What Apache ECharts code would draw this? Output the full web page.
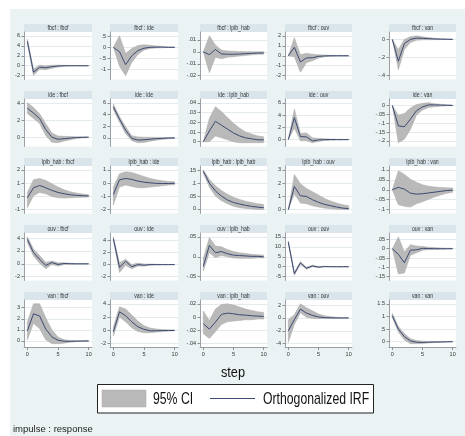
<!DOCTYPE html>
<html><head><meta charset="utf-8">
<script src="https://cdn.jsdelivr.net/npm/echarts@6/dist/echarts.min.js"></script>
<style>
html,body{margin:0;padding:0;background:#fff;}
#bg{position:absolute;left:10px;top:9px;width:455px;height:427px;background:#eaf2f3;}
#c{position:absolute;left:0;top:0;width:465px;height:436px;}
</style>
</head><body><div id="bg"></div><div id="c"></div>
<script>
// ---------- data ----------
const steps = [0,1,2,3,4,5,6,7,8,9,10];
const variables = ['fbcf','ide','lpib_hab','ouv','van'];
const xTicks = [0,5,10];

// impulse fbcf
const irf_fbcf_fbcf = [4.9, -1.3, -0.3, -0.4, -0.2, -0.05, 0, 0, 0, 0, 0];
const lo_fbcf_fbcf  = [4.5, -1.95, -0.7, -0.8, -0.5, -0.25, -0.1, -0.05, -0.03, -0.02, -0.01];
const hi_fbcf_fbcf  = [5.3, -0.65, 0.1, 0.0, 0.1, 0.12, 0.08, 0.05, 0.03, 0.02, 0.01];
const ticks_fbcf_fbcf = [-2, 0, 2, 4, 6];

const irf_fbcf_ide = [0, -0.2, -0.78, -0.38, -0.15, -0.04, 0, 0.01, 0.01, 0, 0];
const lo_fbcf_ide  = [0, -0.85, -1.28, -0.68, -0.32, -0.12, -0.05, -0.03, -0.02, -0.01, -0.01];
const hi_fbcf_ide  = [0, 0.52, -0.28, -0.05, 0.08, 0.12, 0.09, 0.06, 0.04, 0.02, 0.02];
const ticks_fbcf_ide = [-1, -0.5, 0, 0.5];

const irf_fbcf_lpib_hab = [0, -0.0023, 0.002, -0.0017, -0.002, -0.002, -0.0018, -0.0015, -0.0012, -0.001, -0.0009];
const lo_fbcf_lpib_hab  = [0, -0.0175, -0.0045, -0.0058, -0.0045, -0.004, -0.0035, -0.003, -0.0025, -0.002, -0.002];
const hi_fbcf_lpib_hab  = [0, 0.0135, 0.0058, 0.0015, 0.0008, 0.0005, 0.0003, 0.0002, 0.0001, 0.0001, 0.0001];
const ticks_fbcf_lpib_hab = [-0.02, -0.01, 0, 0.01];

const irf_fbcf_ouv = [0, 0.85, -0.62, -0.22, -0.2, -0.06, -0.02, 0, 0, 0, 0];
const lo_fbcf_ouv  = [0, -0.1, -1.65, -0.7, -0.5, -0.22, -0.1, -0.05, -0.03, -0.02, -0.01];
const hi_fbcf_ouv  = [0, 1.8, 0.1, 0.25, 0.15, 0.1, 0.07, 0.04, 0.03, 0.02, 0.01];
const ticks_fbcf_ouv = [-2, -1, 0, 1, 2];

const irf_fbcf_van = [0, -0.24, -0.045, 0.0, 0.015, 0.012, 0.008, 0.005, 0.003, 0.002, 0.001];
const lo_fbcf_van  = [0, -0.335, -0.11, -0.035, -0.01, -0.005, -0.003, -0.002, -0.001, -0.001, 0];
const hi_fbcf_van  = [0, -0.11, 0.0, 0.03, 0.04, 0.03, 0.02, 0.012, 0.008, 0.005, 0.003];
const ticks_fbcf_van = [-0.4, -0.2, 0];

// impulse ide
const irf_ide_fbcf = [3.4, 2.85, 2.2, 0.9, 0.0, -0.25, -0.18, -0.1, -0.05, -0.02, 0];
const lo_ide_fbcf  = [2.8, 2.2, 1.6, 0.2, -0.6, -0.65, -0.45, -0.3, -0.15, -0.08, -0.05];
const hi_ide_fbcf  = [4.05, 3.5, 2.75, 1.6, 0.5, 0.15, 0.1, 0.08, 0.05, 0.04, 0.03];
const ticks_ide_fbcf = [0, 2, 4];

const irf_ide_ide = [5.3, 3.2, 1.3, -0.1, -0.4, -0.35, -0.25, -0.15, -0.1, -0.05, -0.02];
const lo_ide_ide  = [4.8, 2.7, 0.7, -0.5, -0.85, -0.8, -0.6, -0.42, -0.28, -0.18, -0.12];
const hi_ide_ide  = [5.8, 3.65, 1.9, 0.35, 0.15, 0.1, 0.08, 0.06, 0.06, 0.05, 0.05];
const ticks_ide_ide = [0, 2, 4, 6];

const irf_ide_lpib_hab = [0, 0.011, 0.021, 0.017, 0.013, 0.009, 0.006, 0.004, 0.003, 0.002, 0.002];
const lo_ide_lpib_hab  = [0, 0.0, 0.006, 0.004, 0.002, 0.0, -0.001, -0.001, -0.001, -0.001, -0.001];
const hi_ide_lpib_hab  = [0, 0.024, 0.036, 0.031, 0.025, 0.019, 0.014, 0.01, 0.008, 0.006, 0.005];
const ticks_ide_lpib_hab = [0, 0.01, 0.02, 0.03, 0.04];

const irf_ide_ouv = [0, 3.6, 0.5, 0.45, -0.2, -0.05, 0, 0.02, 0, 0, 0];
const lo_ide_ouv  = [0, 1.9, -0.2, -0.2, -0.5, -0.3, -0.15, -0.08, -0.05, -0.03, -0.02];
const hi_ide_ouv  = [0, 5.0, 1.0, 1.1, 0.3, 0.2, 0.15, 0.1, 0.06, 0.04, 0.03];
const ticks_ide_ouv = [0, 2, 4, 6];

const irf_ide_van = [0, -0.115, -0.12, -0.077, -0.03, -0.008, 0.003, 0.003, 0.002, 0.001, 0];
const lo_ide_van  = [0, -0.21, -0.19, -0.135, -0.055, -0.025, -0.012, -0.007, -0.004, -0.002, -0.001];
const hi_ide_van  = [0, -0.055, -0.045, -0.015, 0.005, 0.012, 0.015, 0.01, 0.007, 0.004, 0.002];
const ticks_ide_van = [-0.2, -0.15, -0.1, -0.05, 0];

// impulse lpib_hab
const irf_lpib_hab_fbcf = [-0.1, 0.65, 0.82, 0.65, 0.45, 0.3, 0.2, 0.12, 0.08, 0.05, 0.03];
const lo_lpib_hab_fbcf  = [-0.85, 0.05, 0.3, 0.2, 0.0, -0.1, -0.12, -0.1, -0.08, -0.06, -0.05];
const hi_lpib_hab_fbcf  = [0.3, 1.25, 1.35, 1.2, 0.95, 0.7, 0.5, 0.35, 0.25, 0.18, 0.12];
const ticks_lpib_hab_fbcf = [-1, 0, 1, 2];

const irf_lpib_hab_ide = [-0.85, 0.25, 0.35, 0.28, 0.15, 0.07, 0.02, -0.02, -0.03, -0.03, -0.02];
const lo_lpib_hab_ide  = [-1.65, -0.3, -0.15, -0.25, -0.35, -0.35, -0.3, -0.25, -0.2, -0.15, -0.12];
const hi_lpib_hab_ide  = [-0.3, 0.7, 0.85, 0.8, 0.65, 0.5, 0.35, 0.25, 0.18, 0.12, 0.1];
const ticks_lpib_hab_ide = [-2, -1, 0, 1];

const irf_lpib_hab_lpib_hab = [0.146, 0.1, 0.07, 0.05, 0.035, 0.025, 0.019, 0.014, 0.01, 0.007, 0.005];
const lo_lpib_hab_lpib_hab  = [0.14, 0.085, 0.05, 0.032, 0.02, 0.01, 0.005, 0.002, 0.0, -0.002, -0.003];
const hi_lpib_hab_lpib_hab  = [0.152, 0.115, 0.09, 0.072, 0.057, 0.045, 0.037, 0.03, 0.025, 0.02, 0.017];
const ticks_lpib_hab_lpib_hab = [0, 0.05, 0.1, 0.15];

const irf_lpib_hab_ouv = [0, 1.75, 1.05, 1.0, 0.75, 0.55, 0.4, 0.3, 0.2, 0.12, 0.08];
const lo_lpib_hab_ouv  = [0, 1.2, 0.5, 0.45, 0.3, 0.2, 0.12, 0.07, 0.03, 0.01, 0.0];
const hi_lpib_hab_ouv  = [0, 2.65, 1.95, 1.6, 1.35, 1.1, 0.85, 0.65, 0.5, 0.38, 0.3];
const ticks_lpib_hab_ouv = [0, 1, 2, 3];

const irf_lpib_hab_van = [0, 0.012, 0.003, -0.017, -0.022, -0.02, -0.016, -0.012, -0.008, -0.004, -0.002];
const lo_lpib_hab_van  = [0, -0.075, -0.083, -0.087, -0.07, -0.06, -0.048, -0.036, -0.026, -0.018, -0.013];
const hi_lpib_hab_van  = [0, 0.095, 0.077, 0.053, 0.037, 0.025, 0.018, 0.014, 0.011, 0.01, 0.009];
const ticks_lpib_hab_van = [-0.1, -0.05, 0, 0.05, 0.1];

// impulse ouv
const irf_ouv_fbcf = [3.8, 1.75, 0.7, -0.25, 0.2, -0.1, 0.05, 0.02, 0, 0, 0];
const lo_ouv_fbcf  = [3.3, 1.2, 0.1, -0.75, -0.1, -0.35, -0.1, -0.06, -0.04, -0.02, -0.01];
const hi_ouv_fbcf  = [4.2, 2.3, 1.3, 0.2, 0.45, 0.15, 0.15, 0.08, 0.04, 0.02, 0.01];
const ticks_ouv_fbcf = [-2, 0, 2, 4];

const irf_ouv_ide = [4.3, -0.45, 0.55, -0.35, 0.0, -0.1, 0, 0, 0, 0, 0];
const lo_ouv_ide  = [4.0, -1.3, -0.1, -0.7, -0.25, -0.25, -0.1, -0.05, -0.03, -0.02, -0.01];
const hi_ouv_ide  = [4.6, 0.3, 0.9, 0.0, 0.25, 0.1, 0.1, 0.05, 0.03, 0.02, 0.01];
const ticks_ouv_ide = [-2, 0, 2, 4];

const irf_ouv_lpib_hab = [-0.024, 0.0285, 0.01, 0.013, 0.0076, 0.004, 0.003, 0.002, 0.001, 0.001, 0];
const lo_ouv_lpib_hab  = [-0.036, 0.01, -0.002, 0.003, 0.0, -0.003, -0.004, -0.004, -0.004, -0.003, -0.003];
const hi_ouv_lpib_hab  = [-0.004, 0.048, 0.027, 0.025, 0.018, 0.013, 0.01, 0.008, 0.006, 0.005, 0.004];
const ticks_ouv_lpib_hab = [-0.05, 0, 0.05];

const irf_ouv_ouv = [12.3, -3.5, 1.9, -0.8, 0.4, -0.2, 0.1, 0, 0, 0, 0];
const lo_ouv_ouv  = [11.6, -4.3, 1.3, -1.3, 0.0, -0.45, -0.1, -0.08, -0.05, -0.03, -0.02];
const hi_ouv_ouv  = [13.0, -2.8, 2.6, -0.3, 0.8, 0.05, 0.25, 0.08, 0.05, 0.03, 0.02];
const ticks_ouv_ouv = [-5, 0, 5, 10, 15];

const irf_ouv_van = [0, -0.03, -0.075, -0.008, -0.006, 0.002, 0.001, 0, 0, 0, 0];
const lo_ouv_van  = [0, -0.135, -0.13, -0.035, -0.022, -0.008, -0.005, -0.004, -0.003, -0.002, -0.001];
const hi_ouv_van  = [0, 0.064, -0.018, 0.022, 0.015, 0.012, 0.008, 0.006, 0.004, 0.003, 0.002];
const ticks_ouv_van = [-0.15, -0.1, -0.05, 0, 0.05];

// impulse van
const irf_van_fbcf = [0.92, 2.45, 2.25, 1.07, 0.37, 0.06, -0.03, -0.03, -0.02, -0.01, 0];
const lo_van_fbcf  = [0.1, 1.6, 1.1, 0.1, -0.25, -0.25, -0.2, -0.12, -0.06, -0.03, -0.02];
const hi_van_fbcf  = [1.7, 3.35, 3.35, 2.1, 1.0, 0.35, 0.1, 0.05, 0.03, 0.02, 0.02];
const ticks_van_fbcf = [0, 1, 2, 3];

const irf_van_ide = [-0.2, 2.8, 2.2, 1.3, 0.55, 0.15, -0.05, -0.05, -0.03, -0.02, 0];
const lo_van_ide  = [-0.85, 2.0, 1.3, 0.4, -0.15, -0.35, -0.35, -0.25, -0.17, -0.1, -0.07];
const hi_van_ide  = [0.5, 3.55, 3.2, 2.3, 1.4, 0.7, 0.35, 0.2, 0.12, 0.08, 0.05];
const ticks_van_ide = [-2, 0, 2, 4];

const irf_van_lpib_hab = [-0.01, -0.018, -0.0075, 0.004, 0.006, 0.005, 0.0035, 0.003, 0.002, 0.0015, 0.001];
const lo_van_lpib_hab  = [-0.025, -0.032, -0.022, -0.011, -0.007, -0.006, -0.005, -0.004, -0.004, -0.003, -0.003];
const hi_van_lpib_hab  = [0.009, -0.005, 0.012, 0.019, 0.02, 0.018, 0.015, 0.012, 0.01, 0.008, 0.007];
const ticks_van_lpib_hab = [-0.04, -0.02, 0, 0.02];

const irf_van_ouv = [-2.0, -0.26, 1.37, 0.76, 0.4, 0.15, 0.05, 0.02, 0, 0, 0];
const lo_van_ouv  = [-3.8, -1.0, 0.8, 0.1, -0.05, -0.1, -0.1, -0.08, -0.05, -0.03, -0.02];
const hi_van_ouv  = [-0.26, 0.5, 2.2, 1.6, 1.1, 0.6, 0.35, 0.2, 0.1, 0.05, 0.03];
const ticks_van_ouv = [-4, -2, 0, 2];

const irf_van_van = [1.03, 0.5, 0.2, 0.03, -0.02, -0.03, -0.02, -0.015, -0.01, -0.005, 0];
const lo_van_van  = [0.95, 0.38, 0.07, -0.08, -0.08, -0.07, -0.05, -0.035, -0.025, -0.015, -0.01];
const hi_van_van  = [1.12, 0.6, 0.32, 0.12, 0.05, 0.02, 0.01, 0.01, 0.005, 0.005, 0.005];
const ticks_van_van = [0, 0.5, 1, 1.5];

// lookup table built from the named arrays
const PANELS = {
  'fbcf:fbcf': [irf_fbcf_fbcf, lo_fbcf_fbcf, hi_fbcf_fbcf, ticks_fbcf_fbcf],
  'fbcf:ide': [irf_fbcf_ide, lo_fbcf_ide, hi_fbcf_ide, ticks_fbcf_ide],
  'fbcf:lpib_hab': [irf_fbcf_lpib_hab, lo_fbcf_lpib_hab, hi_fbcf_lpib_hab, ticks_fbcf_lpib_hab],
  'fbcf:ouv': [irf_fbcf_ouv, lo_fbcf_ouv, hi_fbcf_ouv, ticks_fbcf_ouv],
  'fbcf:van': [irf_fbcf_van, lo_fbcf_van, hi_fbcf_van, ticks_fbcf_van],
  'ide:fbcf': [irf_ide_fbcf, lo_ide_fbcf, hi_ide_fbcf, ticks_ide_fbcf],
  'ide:ide': [irf_ide_ide, lo_ide_ide, hi_ide_ide, ticks_ide_ide],
  'ide:lpib_hab': [irf_ide_lpib_hab, lo_ide_lpib_hab, hi_ide_lpib_hab, ticks_ide_lpib_hab],
  'ide:ouv': [irf_ide_ouv, lo_ide_ouv, hi_ide_ouv, ticks_ide_ouv],
  'ide:van': [irf_ide_van, lo_ide_van, hi_ide_van, ticks_ide_van],
  'lpib_hab:fbcf': [irf_lpib_hab_fbcf, lo_lpib_hab_fbcf, hi_lpib_hab_fbcf, ticks_lpib_hab_fbcf],
  'lpib_hab:ide': [irf_lpib_hab_ide, lo_lpib_hab_ide, hi_lpib_hab_ide, ticks_lpib_hab_ide],
  'lpib_hab:lpib_hab': [irf_lpib_hab_lpib_hab, lo_lpib_hab_lpib_hab, hi_lpib_hab_lpib_hab, ticks_lpib_hab_lpib_hab],
  'lpib_hab:ouv': [irf_lpib_hab_ouv, lo_lpib_hab_ouv, hi_lpib_hab_ouv, ticks_lpib_hab_ouv],
  'lpib_hab:van': [irf_lpib_hab_van, lo_lpib_hab_van, hi_lpib_hab_van, ticks_lpib_hab_van],
  'ouv:fbcf': [irf_ouv_fbcf, lo_ouv_fbcf, hi_ouv_fbcf, ticks_ouv_fbcf],
  'ouv:ide': [irf_ouv_ide, lo_ouv_ide, hi_ouv_ide, ticks_ouv_ide],
  'ouv:lpib_hab': [irf_ouv_lpib_hab, lo_ouv_lpib_hab, hi_ouv_lpib_hab, ticks_ouv_lpib_hab],
  'ouv:ouv': [irf_ouv_ouv, lo_ouv_ouv, hi_ouv_ouv, ticks_ouv_ouv],
  'ouv:van': [irf_ouv_van, lo_ouv_van, hi_ouv_van, ticks_ouv_van],
  'van:fbcf': [irf_van_fbcf, lo_van_fbcf, hi_van_fbcf, ticks_van_fbcf],
  'van:ide': [irf_van_ide, lo_van_ide, hi_van_ide, ticks_van_ide],
  'van:lpib_hab': [irf_van_lpib_hab, lo_van_lpib_hab, hi_van_lpib_hab, ticks_van_lpib_hab],
  'van:ouv': [irf_van_ouv, lo_van_ouv, hi_van_ouv, ticks_van_ouv],
  'van:van': [irf_van_van, lo_van_van, hi_van_van, ticks_van_van]
};

// ---------- layout / style ----------
const colLeft = [24, 110, 200, 285, 389];
const colRight = [92, 178, 267, 352, 456];
const rowTop = [32, 99, 166, 233, 300];
const rowH = 47.5;
const FONT = 'Liberation Sans, Arial, sans-serif';
const BAND = '#b9b9b9', BAND_EDGE = '#a8a8a8', LINE = '#3b4a72';

function fmt(v) {
  const s = String(Number(Number(v).toPrecision(6)));
  return s.replace(/^(-?)0\./, '$1.');
}

const grids = [], xAxes = [], yAxes = [], seriesList = [], graphics = [];

variables.forEach((imp, r) => {
  variables.forEach((resp, c) => {
    const key = imp + ':' + resp;
    const [irf, lo, hi, ticks] = PANELS[key];
    const i = grids.length;
    const dMin = Math.min(ticks[0], ...lo), dMax = Math.max(ticks[ticks.length - 1], ...hi);
    const pad = (dMax - dMin) * 0.095;
    const left = colLeft[c], top = rowTop[r], width = colRight[c] - colLeft[c];
    grids.push({ left, top, width, height: rowH, show: true, backgroundColor: '#ffffff',
      borderWidth: 0, containLabel: false, outerBoundsMode: 'none' });
    const bottom = r === variables.length - 1;
    xAxes.push({
      gridIndex: i, type: 'value', min: -0.55, max: 10.55,
      axisLine: { show: bottom, onZero: false, lineStyle: { color: '#9aa0a6', width: 1 } },
      axisTick: { show: bottom, customValues: xTicks, length: 2.5, lineStyle: { color: '#777', width: 0.8 } },
      axisLabel: { show: bottom, customValues: xTicks, fontSize: 5.5, color: '#333', margin: 4, fontFamily: FONT },
      splitLine: { show: false }
    });
    yAxes.push({
      gridIndex: i, type: 'value', min: dMin - pad, max: dMax + pad,
      axisLine: { show: true, onZero: false, lineStyle: { color: '#9aa0a6', width: 1 } },
      axisTick: { show: true, customValues: ticks, length: 2.5, lineStyle: { color: '#777', width: 0.8 } },
      axisLabel: { show: true, customValues: ticks, fontSize: 5.5, color: '#333', margin: 4,
        fontFamily: FONT, formatter: fmt },
      splitLine: { show: true, lineStyle: { color: '#e3ebee', width: 1 } }
    });
    seriesList.push({
      type: 'custom', name: '95% CI', xAxisIndex: i, yAxisIndex: i, silent: true, clip: true,
      data: steps.map(s => [s, lo[s], hi[s]]),
      encode: { x: 0, y: [1, 2] },
      renderItem: function (params, api) {
        if (params.dataIndex !== 0) return { type: 'group', children: [] };
        const up = steps.map(s => api.coord([s, hi[s]]));
        const dn = steps.map(s => api.coord([s, lo[s]])).reverse();
        return { type: 'polygon', shape: { points: up.concat(dn) },
          style: { fill: BAND, stroke: BAND_EDGE, lineWidth: 0.5 } };
      },
      z: 2
    });
    seriesList.push({
      type: 'line', name: 'Orthogonalized IRF', xAxisIndex: i, yAxisIndex: i, silent: true,
      data: steps.map(s => [s, irf[s]]), symbol: 'none',
      lineStyle: { color: LINE, width: 1 }, z: 3
    });
    graphics.push({
      type: 'rect', shape: { x: left, y: top - 8, width: width, height: 8 },
      style: { fill: '#d9e5ea' }, silent: true
    });
    graphics.push({
      type: 'text', x: left + width / 2, y: top - 3.8, scaleX: 0.8,
      style: { text: imp + ' : ' + resp, x: 0, y: 0, align: 'center', verticalAlign: 'middle',
        font: '6.5px ' + FONT, fill: '#333' }, silent: true
    });
  });
});

// overall texts and legend
graphics.push({ type: 'text', x: 233, y: 373, scaleX: 0.85,
  style: { text: 'step', x: 0, y: 0, align: 'center', verticalAlign: 'middle', font: '15px ' + FONT, fill: '#111' } });
graphics.push({ type: 'rect', shape: { x: 97.5, y: 384.5, width: 276, height: 28.5 },
  style: { fill: '#ffffff', stroke: '#222', lineWidth: 1 } });
graphics.push({ type: 'rect', shape: { x: 102, y: 390, width: 44, height: 17 },
  style: { fill: BAND, stroke: BAND_EDGE, lineWidth: 0.5 } });
graphics.push({ type: 'text', x: 153, y: 399, scaleX: 0.72,
  style: { text: '95% CI', x: 0, y: 0, align: 'left', verticalAlign: 'middle', font: '17px ' + FONT, fill: '#111' } });
graphics.push({ type: 'line', shape: { x1: 210, y1: 398.5, x2: 255, y2: 398.5 },
  style: { stroke: LINE, lineWidth: 1 } });
graphics.push({ type: 'text', x: 263, y: 399, scaleX: 0.72,
  style: { text: 'Orthogonalized IRF', x: 0, y: 0, align: 'left', verticalAlign: 'middle', font: '17px ' + FONT, fill: '#111' } });
graphics.push({ type: 'text', x: 13, y: 429,
  style: { text: 'impulse : response', x: 0, y: 0, align: 'left', verticalAlign: 'middle', font: '9.5px ' + FONT, fill: '#222' } });

const chart = echarts.init(document.getElementById('c'), null, { renderer: 'canvas' });
chart.setOption({
  animation: false,
  backgroundColor: 'transparent',
  grid: grids,
  xAxis: xAxes,
  yAxis: yAxes,
  series: seriesList,
  graphic: { elements: graphics }
});
</script>
</body></html>
